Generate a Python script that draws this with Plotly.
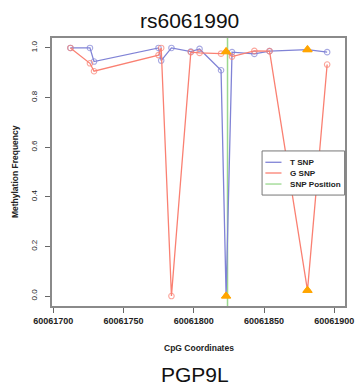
import plotly.graph_objects as go

# CpG coordinates
cpg_pos = [60061712.2, 60061726.1, 60061729.0, 60061774.9, 60061776.8, 60061784.1,
           60061797.9, 60061804.1, 60061819.4, 60061823.0, 60061827.2, 60061843.1,
           60061853.9, 60061880.9, 60061894.9]
t_snp = [1.0, 1.0, 0.945, 1.0, 0.949, 1.0, 0.985, 0.996, 0.910, 0.0, 0.983, 0.976, 0.987, 0.993, 0.983]
g_snp = [1.0, 0.938, 0.906, 0.971, 1.0, 0.0, 0.983, 0.980, 0.977, 0.985, 0.965, 0.988, 0.987, 0.023, 0.933]
snp_cpg_idx = [9, 13]          # CpGs affected by the SNP (triangles)
snp_position = 60061824.0
x_ticks = [60061700, 60061750, 60061800, 60061850, 60061900]
y_ticks = [0.0, 0.2, 0.4, 0.6, 0.8, 1.0]
y_tick_labels = ["0.0", "0.2", "0.4", "0.6", "0.8", "1.0"]
legend_names = ["T SNP", "G SNP", "SNP Position"]
title_text = "rs6061990"
gene_text = "PGP9L"

BLUE = "#8083d6"
RED = "#fa8072"
GREEN = "#9ad88e"
ORANGE = "#ffa500"
legend_colors = [BLUE, RED, GREEN]

fig = go.Figure()

# SNP position line
fig.add_trace(go.Scatter(x=[snp_position, snp_position], y=[-0.04, 1.04], mode="lines",
                         line=dict(color=GREEN, width=1.5), showlegend=False, hoverinfo="skip"))

def series(vals, color, name):
    symbols = ["triangle-up" if i in snp_cpg_idx else "circle-open" for i in range(len(vals))]
    colors = [ORANGE if i in snp_cpg_idx else color for i in range(len(vals))]
    sizes = [8 if i in snp_cpg_idx else 5.5 for i in range(len(vals))]
    return go.Scatter(x=cpg_pos, y=vals, mode="lines+markers", name=name,
                      line=dict(color=color, width=1.3),
                      marker=dict(symbol=symbols, color=colors, size=sizes,
                                  line=dict(color=colors, width=1.1)),
                      showlegend=False)

fig.add_trace(series(t_snp, BLUE, legend_names[0]))
fig.add_trace(series(g_snp, RED, legend_names[1]))
# triangles on top
for vals in (t_snp, g_snp):
    fig.add_trace(go.Scatter(x=[cpg_pos[i] for i in snp_cpg_idx], y=[vals[i] for i in snp_cpg_idx],
                             mode="markers", marker=dict(symbol="triangle-up", color=ORANGE, size=8,
                                                         line=dict(color=ORANGE, width=1)),
                             showlegend=False))

L, R, T, B = 52, 9.3, 38.3, 80.3
pw = 363 - L - R
ph = 386 - T - B

def px_x(px):
    return (px - L) / pw

def px_y(py):
    return (386 - B - py) / ph

# manual legend (box, line keys, labels)
shapes = [dict(type="rect", xref="paper", yref="paper",
               x0=px_x(268.3), x1=px_x(353.3), y0=px_y(195), y1=px_y(151),
               line=dict(color="#777", width=1), fillcolor="white", layer="above")]
annotations = []
row_y = [162.3, 173.0, 184.0]
for name, c, ry in zip(legend_names, legend_colors, row_y):
    shapes.append(dict(type="line", xref="paper", yref="paper",
                       x0=px_x(271.7), x1=px_x(288.3), y0=px_y(ry), y1=px_y(ry),
                       line=dict(color=c, width=1.3), layer="above"))
    annotations.append(dict(text=name, x=px_x(295.5), y=px_y(ry), xref="paper", yref="paper",
                            showarrow=False, xanchor="left", yanchor="middle",
                            font=dict(size=8.1, color="#222", weight="bold")))

font = "Liberation Sans, Arial, sans-serif"
annotations += [
    dict(text=title_text, x=px_x(194), y=px_y(20.5), xref="paper", yref="paper",
         showarrow=False, font=dict(size=21, color="#111"), xanchor="center", yanchor="middle"),
    dict(text=gene_text, x=px_x(199), y=px_y(374), xref="paper", yref="paper",
         showarrow=False, font=dict(size=21, color="#111"), xanchor="center", yanchor="middle"),
    dict(text="CpG Coordinates", x=px_x(203), y=px_y(348), xref="paper", yref="paper",
         showarrow=False, font=dict(size=8.5, color="#222", weight="bold"), xanchor="center", yanchor="middle"),
    dict(text="Methylation Frequency", x=px_x(14), y=0.5, xref="paper", yref="paper",
         showarrow=False, textangle=-90, font=dict(size=8.5, color="#222", weight="bold"),
         xanchor="center", yanchor="middle"),
]

fig.update_layout(
    width=363, height=386,
    margin=dict(l=L, r=R, t=T, b=B, pad=0),
    paper_bgcolor="white", plot_bgcolor="white",
    font=dict(family=font, color="#222"),
    showlegend=False,
    xaxis=dict(range=[60061699.1, 60061907.6], tickvals=x_ticks,
               ticktext=[str(v) for v in x_ticks], showgrid=False, zeroline=False,
               showline=True, mirror=True, linecolor="#8a8a8a", linewidth=1.5,
               ticks="outside", ticklen=5, tickcolor="#666", tickwidth=1,
               tickfont=dict(size=9, color="#222", weight="bold")),
    yaxis=dict(range=[-0.04, 1.04], tickvals=y_ticks, ticktext=y_tick_labels,
               showgrid=False, zeroline=False, showline=True, mirror=True,
               linecolor="#8a8a8a", linewidth=1.5, ticks="outside", ticklen=5,
               tickcolor="#666", tickwidth=1, tickangle=-90, ticklabelstandoff=5,
               tickfont=dict(size=8, color="#222")),
    shapes=shapes,
    annotations=annotations,
)

fig.write_html("out.html", config={"displayModeBar": False},
               post_script="document.body.style.margin='0';document.body.style.overflow='hidden';")
